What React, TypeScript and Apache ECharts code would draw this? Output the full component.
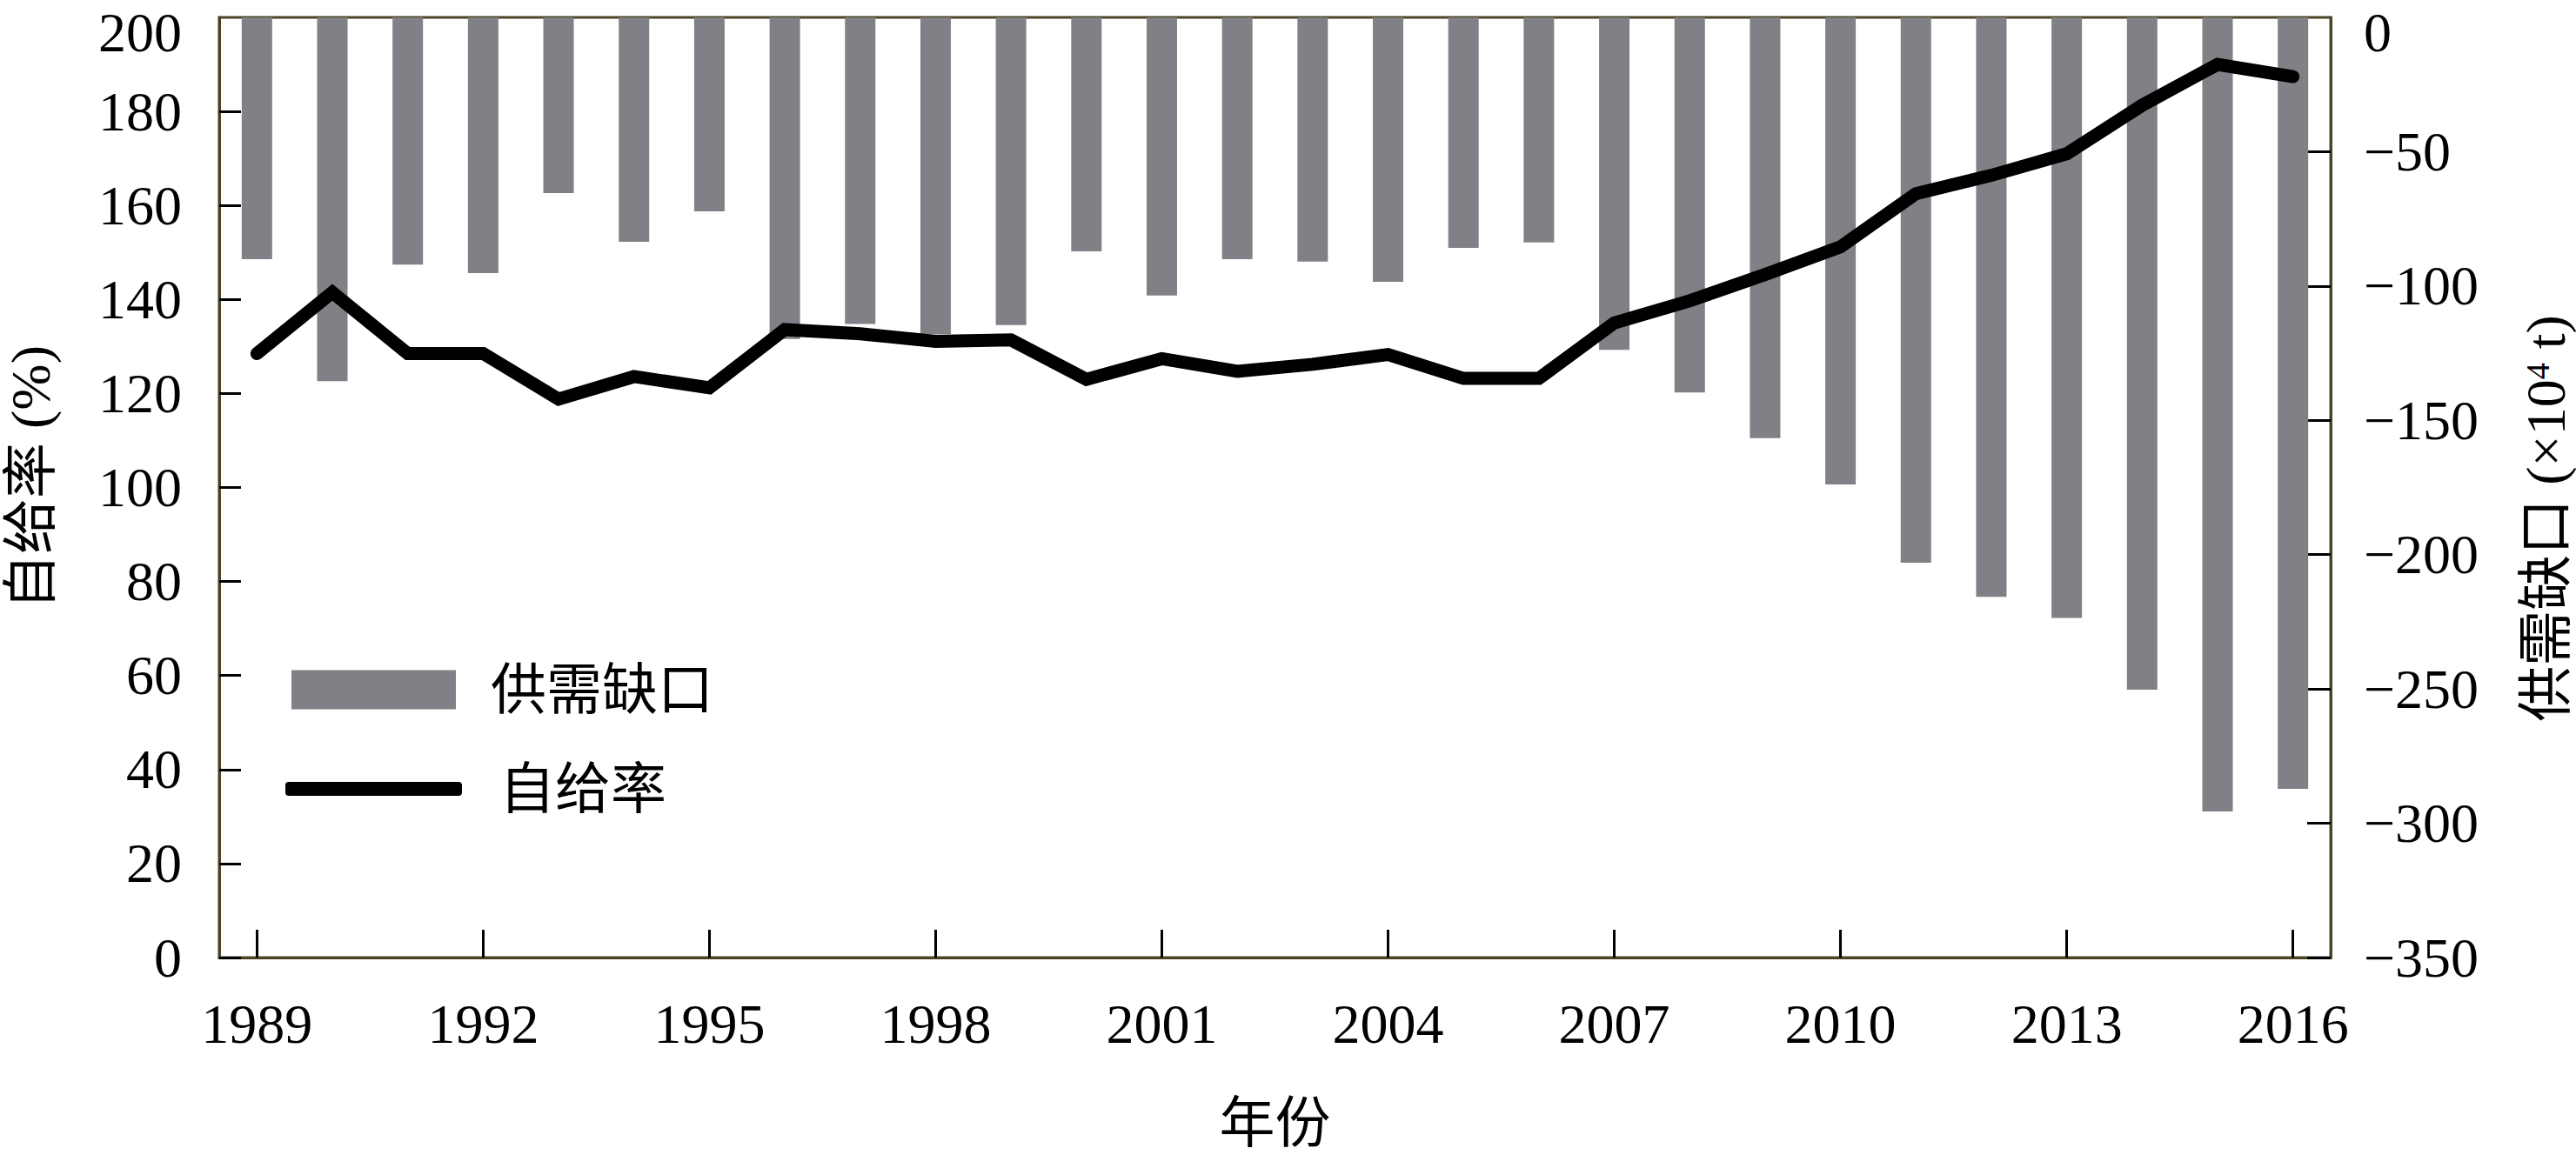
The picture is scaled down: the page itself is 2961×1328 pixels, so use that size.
import React, { useEffect, useRef } from "react";
import * as echarts from "echarts";

const years = [
  "1989", "1990", "1991", "1992", "1993", "1994", "1995", "1996", "1997", "1998",
  "1999", "2000", "2001", "2002", "2003", "2004", "2005", "2006", "2007", "2008",
  "2009", "2010", "2011", "2012", "2013", "2014", "2015", "2016",
];

// 供需缺口 (×10^4 t), right axis
const gapValues = [
  -90, -135.4, -92, -95.2, -65.4, -83.5, -72.2, -119.7, -114.1, -117.9,
  -114.5, -87.1, -103.5, -90.0, -90.9, -98.4, -85.8, -83.8, -123.8, -139.6,
  -156.6, -173.9, -203.0, -215.7, -223.6, -250.3, -295.6, -287.2,
];

// 自给率 (%), left axis
const rateValues = [
  128.5, 141.5, 128.5, 128.5, 118.8, 123.6, 121.2, 133.6, 132.7, 131.1,
  131.4, 123.0, 127.4, 124.7, 126.2, 128.3, 123.2, 123.2, 135.0, 139.7,
  145.3, 151.2, 162.5, 166.4, 171.0, 181.3, 190.0, 187.4,
];

const leftRange = [0, 200, 20];
const rightRange = [-350, 0, 50];

const seriesNames = ["供需缺口", "自给率"];
const axisNames = { x: "年份", left: "自给率 (%)", right: "供需缺口 (×10{sup|4} t)" };

const AXIS_COLOR = "#4a4424";
const BAR_COLOR = "#818086";
const SERIF = '"Liberation Serif", "Times New Roman", serif';
const CJK = '"Liberation Serif", "Noto Sans CJK SC", serif';
const FS = 64;

const fmt = (v: number) => String(v).replace("-", "\u2212");

export default function App() {
  const ref = useRef<HTMLDivElement>(null);

  useEffect(() => {
    if (!ref.current) return;
    const chart = echarts.init(ref.current, undefined, { renderer: "svg" });
    const labelStyle = { fontFamily: SERIF, fontSize: FS, color: "#000", lineHeight: 40 };
    const topLabel = (text: string, x: number, align: string) => ({
      type: "text",
      x,
      y: 37,
      style: {
        text,
        fontFamily: SERIF,
        fontSize: FS,
        fill: "#000",
        align,
        verticalAlign: "middle",
      },
    });
    chart.setOption({
      animation: false,
      backgroundColor: "#fff",
      grid: {
        left: 252,
        top: 20,
        width: 2427,
        height: 1084,
        show: true,
        borderColor: AXIS_COLOR,
        borderWidth: 3,
        backgroundColor: "transparent",
      },
      legend: [
        {
          data: [{ name: seriesNames[0], icon: "rect" }],
          left: 335,
          top: 761,
          padding: 0,
          itemWidth: 189,
          itemHeight: 45,
          selectedMode: false,
          textStyle: {
            fontFamily: CJK,
            fontSize: FS,
            lineHeight: 64,
            color: "#000",
            padding: [0, 0, 0, 35],
          },
        },
        {
          data: [{ name: seriesNames[1], icon: "roundRect" }],
          left: 328,
          top: 875,
          padding: 0,
          itemWidth: 203,
          itemHeight: 16,
          selectedMode: false,
          itemStyle: { color: "#000" },
          textStyle: {
            fontFamily: CJK,
            fontSize: FS,
            lineHeight: 64,
            color: "#000",
            padding: [0, 0, 0, 38],
          },
        },
      ],
      xAxis: {
        type: "category",
        data: years,
        boundaryGap: true,
        name: axisNames.x,
        nameLocation: "middle",
        nameGap: 158,
        nameTextStyle: { fontFamily: CJK, fontSize: FS, color: "#000", lineHeight: 64 },
        axisLine: { show: true, onZero: false, lineStyle: { color: AXIS_COLOR, width: 3 } },
        axisTick: {
          show: true,
          inside: true,
          length: 32,
          interval: 2,
          alignWithLabel: true,
          lineStyle: { color: "#000", width: 3 },
        },
        axisLabel: { ...labelStyle, interval: 2, margin: 56 },
        splitLine: { show: false },
      },
      yAxis: [
        {
          type: "value",
          min: leftRange[0],
          max: leftRange[1],
          interval: leftRange[2],
          position: "left",
          axisLine: { show: true, lineStyle: { color: AXIS_COLOR, width: 3 } },
          axisTick: { show: true, inside: true, length: 25, lineStyle: { color: "#000", width: 3 } },
          axisLabel: { ...labelStyle, margin: 43, showMaxLabel: false },
          splitLine: { show: false },
        },
        {
          type: "value",
          min: rightRange[0],
          max: rightRange[1],
          interval: rightRange[2],
          position: "right",
          axisLine: { show: true, lineStyle: { color: AXIS_COLOR, width: 3 } },
          axisTick: { show: true, inside: true, length: 27, lineStyle: { color: "#000", width: 3 } },
          axisLabel: {
            ...labelStyle,
            margin: 38,
            showMaxLabel: false,
            formatter: (v: number) => fmt(v),
          },
          splitLine: { show: false },
        },
      ],
      graphic: [
        topLabel(fmt(leftRange[1]), 209, "right"),
        topLabel(fmt(rightRange[1]), 2717, "left"),
        {
          type: "text",
          x: 35,
          y: 549,
          rotation: Math.PI / 2,
          style: {
            text: axisNames.left,
            fontFamily: CJK,
            fontSize: FS,
            lineHeight: 60,
            fill: "#000",
            align: "center",
            verticalAlign: "middle",
          },
        },
        {
          type: "text",
          x: 2926,
          y: 596,
          rotation: Math.PI / 2,
          style: {
            text: axisNames.right,
            fontFamily: CJK,
            fontSize: FS,
            lineHeight: 56,
            fill: "#000",
            align: "center",
            verticalAlign: "middle",
            rich: {
              sup: {
                fontFamily: SERIF,
                fontSize: 38,
                lineHeight: 56,
                verticalAlign: "top",
                padding: [0, 0, 22, 0],
                fill: "#000",
              },
            },
          },
        },
      ],
      series: [
        {
          name: seriesNames[0],
          type: "bar",
          yAxisIndex: 1,
          data: gapValues,
          barWidth: 35,
          itemStyle: { color: BAR_COLOR },
          z: 1,
        },
        {
          name: seriesNames[1],
          type: "line",
          yAxisIndex: 0,
          data: rateValues,
          color: "#000",
          showSymbol: false,
          symbol: "none",
          itemStyle: { color: "#000" },
          lineStyle: { color: "#000", width: 15, cap: "round", join: "miter" },
          z: 3,
        },
      ],
    });
    return () => chart.dispose();
  }, []);

  return (
    <div
      ref={ref}
      style={{ position: "fixed", left: 0, top: 0, width: 2961, height: 1328, background: "#fff" }}
    />
  );
}
